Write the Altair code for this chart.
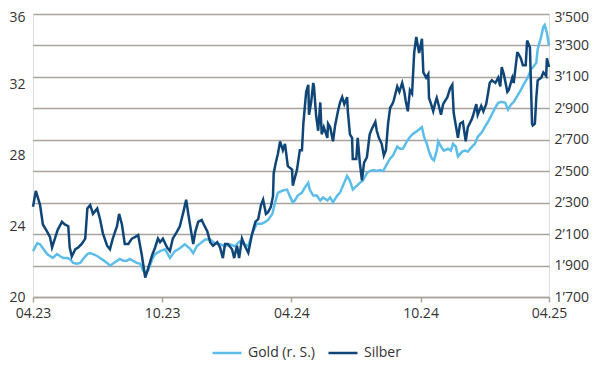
import altair as alt
import pandas as pd

START = "2023-04-01"

# Silber (USD/oz, left axis): days since 01.04.2023 and values
silver_day = [0, 4, 7, 10, 14, 20, 24, 27, 31, 35, 41, 45, 50, 52, 55, 60, 64, 69, 74, 77,
              81, 85, 91, 95, 99, 105, 109, 113, 119, 122, 126, 130, 135, 140, 145, 149, 154,
              159, 163, 169, 173, 177, 180, 184, 190, 194, 198, 204, 208, 213, 217, 220, 224,
              227, 230, 234, 239, 242, 247, 251, 255, 261, 265, 269, 272, 276, 282, 285, 289,
              292, 296, 300, 305, 310, 315, 319, 323, 326, 330, 333, 337, 340, 341, 344, 347,
              350, 354, 357, 361, 367, 368, 374, 378, 381, 383, 387, 390, 391, 394, 397, 398,
              401, 404, 407, 409, 412, 417, 418, 421, 425, 428, 432, 435, 438, 441, 445, 446,
              449, 452, 453, 458, 460, 463, 466, 469, 473, 477, 480, 485, 487, 490, 494, 497,
              500, 503, 506, 509, 511, 516, 519, 523, 526, 528, 531, 534, 537, 540, 543, 547,
              551, 553, 557, 560, 561, 564, 567, 570, 572, 575, 578, 581, 587, 591, 594, 596,
              602, 605, 609, 613, 616, 621, 623, 628, 630, 635, 638, 642, 645, 647, 650, 655,
              659, 662, 664, 667, 672, 674, 679, 681, 686, 687, 691, 694, 698, 700, 704, 707,
              708, 711, 713, 715, 720, 723, 727, 728, 731]
silver_val = [25.1, 26.0, 25.6, 25.2, 24.1, 23.7, 23.4, 22.8, 23.3, 23.8, 24.25, 24.1, 24.0, 22.8,
              22.3, 22.7, 22.8, 23.0, 23.3, 25.0, 25.2, 24.7, 25.0, 24.4, 23.6, 22.9, 22.7, 23.3,
              24.0, 24.7, 24.1, 23.0, 23.0, 23.3, 23.4, 23.5, 22.4, 21.1, 21.6, 22.4, 22.8, 23.3,
              23.1, 23.3, 22.8, 22.6, 23.3, 23.7, 24.0, 24.8, 25.5, 24.7, 23.7, 23.0, 23.7, 24.25,
              24.35, 24.1, 23.7, 23.1, 22.9, 23.1, 22.8, 22.2, 23.0, 23.0, 22.7, 22.2, 22.9, 22.2,
              23.3, 22.9, 22.5, 23.5, 24.25, 24.4, 25.2, 25.5, 24.7, 24.8, 25.1, 25.7, 27.0, 27.6,
              28.1, 28.8, 28.3, 28.66, 27.4, 27.2, 26.3, 27.2, 28.3, 28.3, 29.8, 31.6, 32.0, 30.3,
              31.0, 32.1, 31.9, 30.3, 29.4, 31.0, 29.2, 29.6, 29.0, 29.8, 29.6, 28.8, 29.7, 30.5,
              31.0, 31.3, 30.9, 31.3, 30.5, 29.2, 29.0, 27.8, 27.8, 29.0, 27.6, 26.6, 27.6, 27.9,
              29.2, 29.5, 29.9, 29.4, 29.0, 28.66, 28.0, 28.3, 29.8, 30.7, 30.9, 31.1, 31.9, 31.6,
              32.1, 31.6, 31.1, 30.5, 31.7, 31.5, 33.8, 34.7, 33.8, 34.6, 32.7, 32.4, 32.6, 31.25,
              30.9, 30.5, 31.0, 31.25, 30.8, 30.3, 30.9, 31.3, 31.8, 32.0, 30.4, 29.0, 29.8, 29.9,
              28.8, 29.6, 30.0, 30.2, 30.9, 30.3, 30.8, 30.5, 30.9, 31.6, 32.1, 32.25, 32.1, 32.4,
              31.9, 33.0, 32.6, 31.6, 31.7, 32.4, 32.1, 33.8, 33.8, 33.5, 33.1, 33.1, 34.5, 34.1,
              29.8, 29.7, 29.8, 31.25, 32.25, 32.4, 32.7, 32.5, 33.5, 33.0]

# Gold (USD/oz, right axis): days since 01.04.2023 and values
gold_day = [0, 6, 10, 14, 20, 24, 28, 34, 38, 43, 48, 52, 57, 62, 67, 71, 77, 81, 85, 91, 95,
            99, 105, 109, 113, 119, 123, 128, 133, 137, 142, 147, 152, 156, 160, 163, 169, 173,
            180, 187, 194, 201, 208, 215, 222, 227, 232, 237, 244, 251, 258, 265, 272, 279, 286,
            293, 300, 305, 310, 317, 324, 329, 333, 339, 343, 347, 354, 360, 364, 368, 371, 375,
            381, 385, 390, 392, 397, 402, 407, 411, 417, 421, 425, 431, 435, 439, 445, 449, 453,
            459, 463, 467, 473, 477, 482, 487, 492, 496, 502, 506, 510, 516, 520, 524, 530, 534,
            538, 544, 548, 551, 554, 558, 561, 565, 568, 572, 574, 578, 582, 588, 592, 595, 599,
            602, 608, 612, 616, 622, 626, 630, 636, 640, 645, 650, 655, 659, 664, 669, 673, 677,
            681, 687, 691, 696, 701, 706, 708, 713, 715, 720, 723, 725, 728, 731]
gold_val = [1992, 2041, 2035, 2010, 1973, 1961, 1948, 1973, 1961, 1948, 1948, 1942, 1917, 1911,
            1917, 1942, 1973, 1979, 1973, 1961, 1948, 1936, 1917, 1899, 1911, 1930, 1942, 1930,
            1930, 1942, 1930, 1917, 1911, 1868, 1849, 1868, 1942, 1973, 1992, 2004, 1948, 1992,
            2010, 2035, 2010, 1979, 2023, 2041, 2066, 2066, 2041, 2035, 2023, 2035, 2023, 2054,
            2035, 2023, 2097, 2166, 2166, 2178, 2190, 2228, 2302, 2364, 2377, 2383, 2340, 2302,
            2314, 2345, 2364, 2395, 2426, 2383, 2345, 2345, 2314, 2333, 2314, 2333, 2302, 2345,
            2364, 2408, 2470, 2439, 2383, 2408, 2426, 2439, 2488, 2501, 2507, 2501, 2507, 2501,
            2550, 2581, 2600, 2656, 2643, 2643, 2693, 2718, 2737, 2755, 2770, 2780, 2718, 2674,
            2625, 2581, 2569, 2631, 2690, 2656, 2631, 2643, 2631, 2674, 2656, 2594, 2625, 2631,
            2625, 2656, 2674, 2718, 2749, 2780, 2817, 2861, 2904, 2935, 2941, 2935, 2892, 2923,
            2941, 2985, 3016, 3059, 3097, 3153, 3159, 3190, 3277, 3357, 3419, 3430, 3380, 3300]

series_names = ["Gold (r. S.)", "Silber"]
series_colors = ["#5cbde9", "#0f4677"]
x_ticks = ["2023-04-01", "2023-10-01", "2024-04-01", "2024-10-01", "2025-04-01"]
left_ticks = [20, 24, 28, 32, 36]
right_ticks = [1700, 1900, 2100, 2300, 2500, 2700, 2900, 3100, 3300, 3500]

start = pd.Timestamp(START)
silver_df = pd.DataFrame({
    "date": [start + pd.Timedelta(days=d) for d in silver_day],
    "value": silver_val,
    "series": series_names[1],
})
gold_df = pd.DataFrame({
    "date": [start + pd.Timedelta(days=d) for d in gold_day],
    "value": gold_val,
    "series": series_names[0],
})

FONT = "Open Sans"
TXT = "#333333"
GRID = "#a8a49b"

x_enc = alt.X(
    "date:T",
    scale=alt.Scale(domain=[alt.DateTime(year=2023, month=4, date=1),
                            alt.DateTime(year=2025, month=4, date=1)]),
    axis=alt.Axis(
        values=[alt.DateTime(year=int(s[:4]), month=int(s[5:7]), date=1) for s in x_ticks],
        format="%m.%y", title=None, grid=False, labelFlush=False, labelOverlap=False,
        domainColor=GRID, domainWidth=1.5, tickColor=GRID, tickWidth=1.5, tickSize=5,
        labelFont=FONT, labelFontSize=14, labelColor=TXT, labelPadding=4,
    ),
)

color_enc = alt.Color(
    "series:N",
    scale=alt.Scale(domain=series_names, range=series_colors),
    legend=alt.Legend(
        title=None, orient="none", direction="horizontal", legendX=178, legendY=323,
        symbolType="stroke", symbolSize=841, symbolStrokeWidth=2.5,
        labelFont=FONT, labelFontSize=14, labelColor=TXT, labelOffset=5,
        columnPadding=8,
    ),
)

top_shift = {"condition": {"test": "datum.index === 1", "value": 3}, "value": 0}

gold = alt.Chart(gold_df).mark_line(strokeWidth=2.5, interpolate="linear").encode(
    x=x_enc,
    y=alt.Y("value:Q", scale=alt.Scale(domain=[1700, 3500], nice=False, zero=False),
            axis=alt.Axis(orient="right", values=right_ticks, title=None,
                          grid=True, gridColor=GRID, gridWidth=1.5,
                          domain=False, ticks=False, labelFlush=False,
                          labelExpr="replace(format(datum.value, ','), ',', '\u2019')",
                          labelFont=FONT, labelFontSize=14, labelColor=TXT,
                          labelPadding=5, labelOffset=top_shift)),
    color=color_enc,
)

silver = alt.Chart(silver_df).mark_line(strokeWidth=2.5, interpolate="linear").encode(
    x=x_enc,
    y=alt.Y("value:Q", scale=alt.Scale(domain=[20, 36], nice=False, zero=False),
            axis=alt.Axis(orient="left", values=left_ticks, title=None,
                          grid=False, domain=False, ticks=False, labelFlush=False,
                          labelFont=FONT, labelFontSize=14, labelColor=TXT,
                          labelPadding=8, labelOffset=top_shift)),
    color=color_enc,
)

chart = alt.layer(gold, silver).resolve_scale(y="independent").properties(
    width=516, height=283,
    autosize=alt.AutoSizeParams(type="none"),
    padding={"left": 25, "top": 6, "right": 43, "bottom": 67},
).configure_view(stroke=None).configure(background="white")

chart.save("out.html", embed_options={"renderer": "svg", "actions": False})
